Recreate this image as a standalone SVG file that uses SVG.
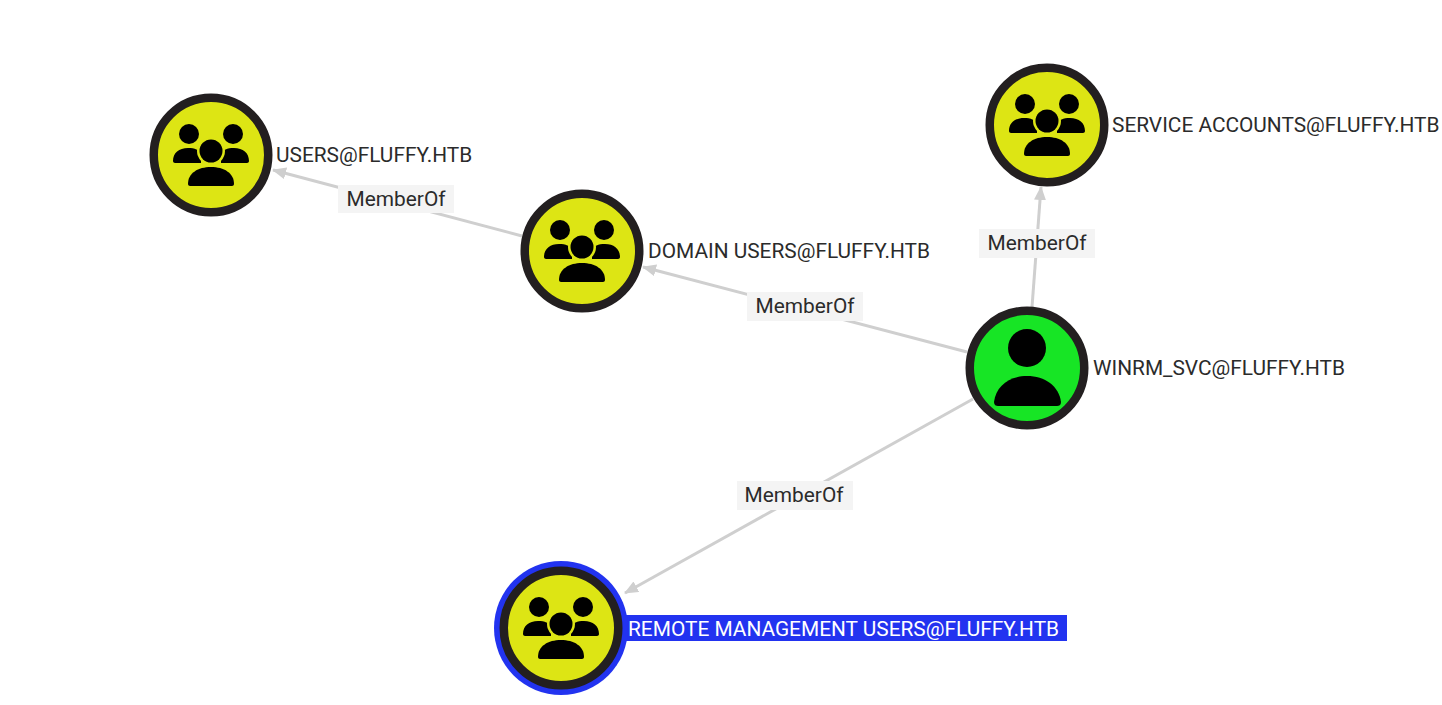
<svg xmlns="http://www.w3.org/2000/svg" width="1442" height="705" viewBox="0 0 1442 705">
<style>
text{font-family:Roboto,"Liberation Sans",sans-serif;font-size:20.85px;fill:#2b2b2b}
.edge{stroke:#cfcfcf;stroke-width:3;fill:none;marker-end:url(#arrow)}
.lb{fill:#f4f4f4}
.el{text-anchor:middle}
.ring{stroke:#231f20;stroke-width:8.5}
.grp{fill:#dde514}
.usr{fill:#17e525}
</style>
<defs>
<marker id="arrow" markerUnits="userSpaceOnUse" markerWidth="14" markerHeight="12" refX="13" refY="6" orient="auto"><path d="M0 0L14 6L0 12z" fill="#cfcfcf"/></marker>
<g id="group-icon">
<circle cx="-22" cy="-21" r="10" fill="#000"/>
<circle cx="22" cy="-21" r="10" fill="#000"/>
<path d="M-38 6C-38-2-32-7-23-7C-16-7-12-5-10-2L-10 8L-36 8C-37 8-38 7-38 6ZM38 6C38-2 32-7 23-7C16-7 12-5 10-2L10 8L36 8C37 8 38 7 38 6Z" fill="#000"/>
<circle cx="0" cy="-4" r="14" fill="#dde514"/>
<circle cx="0" cy="-4" r="11.5" fill="#000"/>
<path d="M-23 29C-23 18-13 12 0 12C13 12 23 18 23 29C23 30 22 31 21 31L-21 31C-22 31-23 30-23 29Z" fill="#000"/>
</g>
</defs>
<rect width="1442" height="705" fill="#fff"/>
<g id="connectors">
<path class="edge" d="M522 236L273 170"/>
<rect class="lb" x="338" y="185" width="116" height="28"/>
<text class="el" x="396" y="206">MemberOf</text>
<path class="edge" d="M967 352L643 267"/>
<rect class="lb" x="747" y="292" width="116" height="29"/>
<text class="el" x="805" y="313">MemberOf</text>
<path class="edge" d="M1032 307L1041 187"/>
<rect class="lb" x="979" y="229" width="116" height="29"/>
<text class="el" x="1037" y="250">MemberOf</text>
<path class="edge" d="M973 399L625 593"/>
<rect class="lb" x="737" y="481" width="116" height="29"/>
<text class="el" x="794" y="502">MemberOf</text>
</g>
<g id="node-users">
<circle class="grp ring" cx="211" cy="155" r="57.25"/>
<use href="#group-icon" x="211" y="155"/>
<text x="276" y="162">USERS@FLUFFY.HTB</text>
</g>
<g id="node-domain-users">
<circle class="grp ring" cx="582" cy="251" r="57.25"/>
<use href="#group-icon" x="582" y="251"/>
<text x="648" y="258">DOMAIN USERS@FLUFFY.HTB</text>
</g>
<g id="node-service-accounts">
<circle class="grp ring" cx="1047" cy="125" r="57.25"/>
<use href="#group-icon" x="1047" y="125"/>
<text x="1112" y="132">SERVICE ACCOUNTS@FLUFFY.HTB</text>
</g>
<g id="node-winrm-svc">
<circle class="usr ring" cx="1027" cy="368" r="57.25"/>
<circle cx="1027" cy="348" r="19" fill="#000"/>
<path d="M994 402C996 386 1009 376 1027 376C1045 376 1059 386 1061 402C1061 405 1059 406 1057 406L998 406C996 406 994 405 994 402Z" fill="#000"/>
<text x="1093" y="375">WINRM_SVC@FLUFFY.HTB</text>
</g>
<g id="node-remote-management">
<rect x="620" y="615" width="447" height="26" fill="#2233f0"/>
<circle cx="561" cy="628" r="67" fill="#2233f0"/>
<circle class="grp ring" cx="561" cy="628" r="57.25"/>
<use href="#group-icon" x="561" y="628"/>
<text x="628" y="636" style="fill:#fff">REMOTE MANAGEMENT USERS@FLUFFY.HTB</text>
</g>
</svg>
